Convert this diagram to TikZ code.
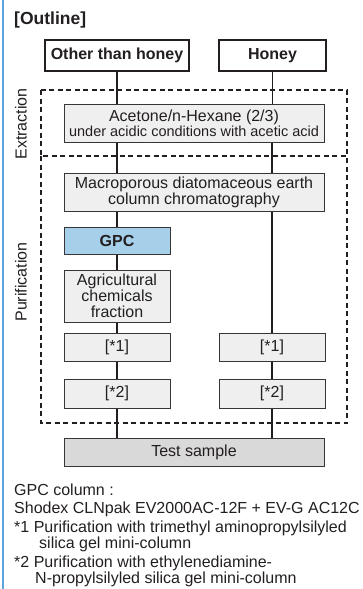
\documentclass[tikz,border=0pt]{standalone}
\usepackage{fontspec}
\setmainfont{Liberation Sans}
\definecolor{ink}{HTML}{231F20}
\definecolor{boxgray}{HTML}{EFEFEF}
\definecolor{testgray}{HTML}{D9D9D9}
\definecolor{gpcblue}{HTML}{A6CFE9}
\definecolor{edgeblue}{HTML}{5AA5DC}
\tikzset{
  srcbox/.style={draw=ink, line width=2pt, fill=white, inner sep=0pt, font=\fontsize{16}{17}\selectfont\bfseries},
  stepbox/.style={draw=ink!90, line width=1pt, fill=boxgray, inner sep=0pt, align=center},
  gpcbox/.style={stepbox, fill=gpcblue, font=\fontsize{16}{17}\selectfont\bfseries},
  testbox/.style={stepbox, fill=testgray},
  flow/.style={draw=ink, line width=1.8pt},
  stage/.style={draw=ink, line width=1.6pt, dash pattern=on 5pt off 3.5pt},
  note/.style={anchor=base west, inner sep=0pt}
}
\begin{document}
\begin{tikzpicture}[x=1pt, y=-1pt, text=ink, font=\fontsize{16}{17}\selectfont]
  \useasboundingbox (0,0) rectangle (363,589);
  \draw[edgeblue, line width=1.2pt] (3,0) -- (3,589);
  \node[anchor=base west, inner sep=0pt, font=\fontsize{17.5}{18}\selectfont\bfseries] (title) at (14,24) {[Outline]};
  % las dos muestras de arriba
  \node[srcbox, minimum width=144pt, minimum height=31pt] (other) at (117,55.5) {Other than honey};
  \node[srcbox, minimum width=107pt, minimum height=31pt] (honey) at (272.5,55.5) {Honey};
  % los recuadros de las etapas
  \draw[stage] (41,90) rectangle (347,156);
  \draw[stage] (41,156) rectangle (347,423);
  \node[rotate=90] (extlabel) at (21,124) {Extraction};
  \node[rotate=90] (purlabel) at (21,282) {Purification};
  % los pasos
  \node[stepbox, minimum width=260pt, minimum height=38pt] (acetone) at (194,123)
    {Acetone/n-Hexane (2/3)\\[-2pt]{\fontsize{14.5}{16}\selectfont under acidic conditions with acetic acid}};
  \node[stepbox, minimum width=260pt, minimum height=38pt] (macro) at (194,192)
    {Macroporous diatomaceous earth\\[-1pt]column chromatography};
  \node[gpcbox, minimum width=106pt, minimum height=27pt] (gpc) at (117,240.5) {GPC};
  \node[stepbox, minimum width=106pt, minimum height=52pt] (agri) at (117,296)
    {Agricultural\\[-1pt]chemicals\\[-1pt]fraction};
  \foreach \side/\x in {L/117, R/272} {
    \node[stepbox, minimum width=106pt, minimum height=28pt] (one\side) at (\x,347) {[*1]};
    \node[stepbox, minimum width=106pt, minimum height=29pt] (two\side) at (\x,393.5) {[*2]};
  }
  \node[testbox, minimum width=260pt, minimum height=28pt] (test) at (194,452) {Test sample};
  % las lineas, de caja a caja
  \draw[flow] (other.south) -- (other.south |- acetone.north);
  \draw[flow] (gpc.north |- acetone.south) -- (gpc.north |- macro.north);
  \draw[flow] (gpc.north |- macro.south) -- (gpc.north);
  \draw[flow] (gpc.south) -- (agri.north);
  \draw[flow] (agri.south) -- (oneL.north);
  \draw[flow] (oneL.south) -- (twoL.north);
  \draw[flow] (twoL.south) -- (twoL.south |- test.north);
  \draw[flow] (honey.south) -- (honey.south |- acetone.north);
  \draw[flow] (oneR.north |- acetone.south) -- (oneR.north |- macro.north);
  \draw[flow] (oneR.north |- macro.south) -- (oneR.north);
  \draw[flow] (oneR.south) -- (twoR.north);
  \draw[flow] (twoR.south) -- (twoR.south |- test.north);
  % las notas de abajo
  \node[note] (note1) at (14,495) {GPC column :};
  \node[note] (note2) at (14,513) {Shodex CLNpak EV2000AC-12F + EV-G AC12C};
  \node[note] (note3) at (14,532) {*1 Purification with trimethyl aminopropylsilyled};
  \node[note] (note4) at (39,548) {silica gel mini-column};
  \node[note] (note5) at (14,567) {*2 Purification with ethylenediamine-};
  \node[note] (note6) at (35,583) {N-propylsilyled silica gel mini-column};
\end{tikzpicture}
\end{document}
